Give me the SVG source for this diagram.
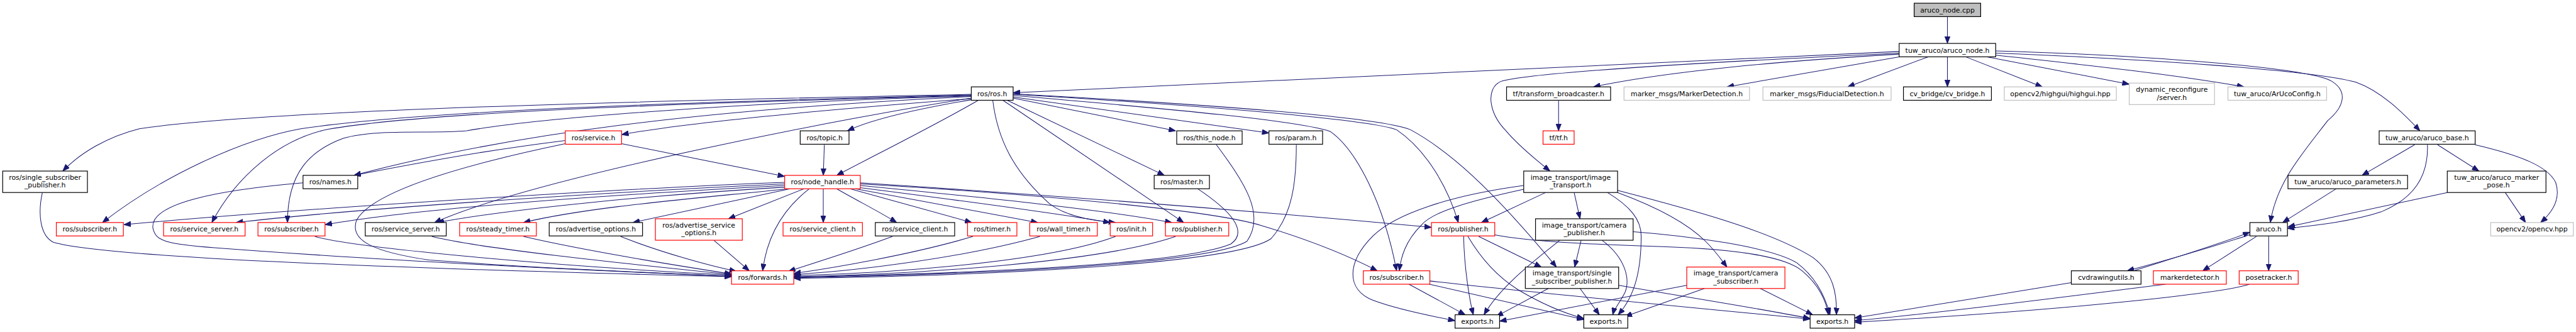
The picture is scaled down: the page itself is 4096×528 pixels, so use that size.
<svg xmlns="http://www.w3.org/2000/svg" width="4096" height="528" viewBox="0 0 4096 528">
<style>
.e path{fill:none;stroke:#191970;stroke-width:1.2;marker-end:url(#ah)}
.nd rect{fill:#fff;stroke:#000;stroke-width:1.4}
.nd.r rect{stroke:#ff0000}
.nd.g rect{stroke:#bfbfbf}
.nd.top rect{fill:#bfbfbf}
.nd text{font-family:"DejaVu Sans","Liberation Sans",sans-serif;font-size:12.8px;text-anchor:middle;fill:#000}
</style>
<defs>
<marker id="ah" viewBox="0 0 13 10" refX="13" refY="5" markerWidth="13" markerHeight="10" markerUnits="userSpaceOnUse" orient="auto"><path d="M0,0 L13,5 L0,10 z" fill="#191970" stroke="#191970" stroke-width="1"/></marker>
</defs>
<rect width="4096" height="528" fill="#fff"/>
<g transform="scale(0.8528)">
<g id="edges" class="e">
<path d="M3631,31 L3631,81"/>
<path d="M3541,96 L1889,173"/>
<path d="M3541,101 C3300,115 3100,135 2971,162"/>
<path d="M3541,99 C3200,115 2850,135 2798,152 C2770,165 2775,210 2808,244 C2830,270 2860,295 2890,319"/>
<path d="M3541,106 L3220,162"/>
<path d="M3595,106 L3445,162"/>
<path d="M3631,106 L3631,162"/>
<path d="M3665,106 L3808,162"/>
<path d="M3705,106 L3970,157"/>
<path d="M3721,103 C3900,122 4060,140 4184,162"/>
<path d="M3721,99 C4000,110 4300,130 4392,153 C4440,170 4480,210 4512,244"/>
<path d="M3721,95 C4000,103 4290,125 4345,150 C4380,170 4370,200 4340,225 C4290,290 4245,340 4233,415"/>
<path d="M2906,188 L2906,244"/>
<path d="M1811,176 C1200,188 500,205 260,240 C200,255 150,285 117,319"/>
<path d="M1811,177 C1300,190 800,205 561,240 C450,260 300,330 191,415"/>
<path d="M1811,178 C1300,192 800,208 612,241 C520,260 440,330 395,415"/>
<path d="M1811,179 C1400,190 1000,220 870,244 C800,250 700,240 640,258 C580,280 536,320 536,415"/>
<path d="M1811,180 C1300,205 950,250 660,327"/>
<path d="M1811,183 C1600,215 1000,330 810,415"/>
<path d="M1811,184 C1600,200 1300,225 1159,251"/>
<path d="M1811,186 C1700,205 1620,225 1580,244"/>
<path d="M1824,187 C1750,230 1640,285 1560,327"/>
<path d="M1851,187 C1860,260 1890,320 1957,380 C1990,405 2040,412 2080,415"/>
<path d="M1870,187 L2207,415"/>
<path d="M1878,187 L2171,327"/>
<path d="M1889,183 L2192,244"/>
<path d="M1889,181 L2366,248"/>
<path d="M1889,178 C2200,205 2420,225 2480,245 C2530,280 2580,380 2604,505"/>
<path d="M1889,176 C2300,200 2560,225 2604,242 C2660,280 2700,350 2719,415"/>
<path d="M1889,175 C2350,200 2580,222 2630,242 C2700,280 2780,350 2902,498"/>
<path d="M1054,262 C950,275 850,290 660,327"/>
<path d="M1159,268 L1463,329"/>
<path d="M1054,268 C900,300 700,350 665,410 C650,450 700,470 800,485 C1000,500 1200,508 1364,515"/>
<path d="M1537,270 L1535,327"/>
<path d="M1463,340 C1200,350 600,385 231,419"/>
<path d="M1463,343 C1200,355 700,385 440,415"/>
<path d="M1463,346 C1200,360 800,385 606,419"/>
<path d="M1463,349 C1200,365 950,390 815,415"/>
<path d="M1470,352 C1300,370 1100,385 976,415"/>
<path d="M1473,352 L1180,415"/>
<path d="M1499,352 L1358,408"/>
<path d="M1509,352 C1460,390 1430,440 1422,505"/>
<path d="M1535,352 L1535,415"/>
<path d="M1560,352 C1600,375 1640,395 1672,415"/>
<path d="M1585,352 L1812,415"/>
<path d="M1595,352 L1935,415"/>
<path d="M1604,350 C1800,375 1950,395 2070,415"/>
<path d="M1604,346 C1850,370 2050,390 2185,415"/>
<path d="M1604,341 C1900,360 2300,390 2669,424"/>
<path d="M1604,343 C1900,360 2250,390 2350,420 C2450,450 2520,480 2568,505"/>
<path d="M565,341 C400,355 280,380 285,425 C290,450 310,455 400,462 C700,485 1100,505 1364,515"/>
<path d="M79,359 C70,400 75,440 100,452 C200,480 700,500 1364,516"/>
<path d="M587,441 C650,460 1000,495 1364,513"/>
<path d="M805,441 C900,465 1200,495 1364,512"/>
<path d="M976,441 C1100,470 1280,498 1364,511"/>
<path d="M1157,441 C1230,470 1320,495 1373,506"/>
<path d="M1331,448 L1397,505"/>
<path d="M1664,441 C1600,465 1520,490 1470,506"/>
<path d="M1814,441 C1700,475 1550,500 1480,510"/>
<path d="M1939,441 C1800,480 1600,505 1480,512"/>
<path d="M2080,441 C1950,490 1650,510 1480,514"/>
<path d="M2192,441 C2050,490 1700,512 1480,516"/>
<path d="M2233,352 C2290,390 2330,430 2295,455 C2200,495 1800,510 1480,517"/>
<path d="M2268,270 C2320,340 2360,400 2325,450 C2250,495 1800,512 1480,518"/>
<path d="M2417,270 C2417,340 2410,400 2370,445 C2300,495 1800,515 1480,519"/>
<path d="M2841,346 C2700,365 2600,400 2560,440 C2510,490 2510,540 2560,560 C2600,575 2660,588 2713,598"/>
<path d="M2841,353 C2740,375 2670,395 2650,420 C2620,450 2612,480 2609,505"/>
<path d="M2882,359 L2762,415"/>
<path d="M2935,359 L2946,408"/>
<path d="M2997,359 C3040,385 3060,410 3060,440 C3060,500 3050,550 3017,587"/>
<path d="M3016,359 C3100,390 3150,420 3180,450 C3200,470 3210,485 3220,498"/>
<path d="M3016,355 C3150,390 3300,430 3380,480 C3420,510 3425,550 3424,587"/>
<path d="M2729,441 C2730,500 2740,560 2747,587"/>
<path d="M2737,441 C2760,480 2790,515 2830,540 C2880,570 2920,585 2953,594"/>
<path d="M2757,441 L2874,498"/>
<path d="M2787,438 C2850,450 2950,455 3100,460 C3250,465 3330,480 3360,505 C3390,530 3405,560 3409,587"/>
<path d="M2627,530 L2732,587"/>
<path d="M2665,530 L2953,596"/>
<path d="M2666,524 C2900,550 3200,578 3375,595"/>
<path d="M2908,448 C2870,480 2800,530 2767,587"/>
<path d="M2948,448 L2936,498"/>
<path d="M2987,448 C3030,480 3040,520 3030,545 C3020,565 3010,575 3007,587"/>
<path d="M3045,432 C3150,440 3300,460 3350,490 C3390,520 3405,560 3412,587"/>
<path d="M2887,538 L2790,590"/>
<path d="M2946,538 L2982,587"/>
<path d="M3018,532 C3150,555 3280,575 3375,594"/>
<path d="M3145,532 L2796,599"/>
<path d="M3178,538 L3030,590"/>
<path d="M3282,538 L3380,587"/>
<path d="M4502,270 L4404,327"/>
<path d="M4526,270 C4528,330 4500,370 4440,395 C4380,415 4300,422 4265,426"/>
<path d="M4545,270 L4622,319"/>
<path d="M4615,270 C4700,290 4750,310 4765,340 C4775,370 4760,395 4737,415"/>
<path d="M4356,352 L4256,415"/>
<path d="M4563,359 L4266,423"/>
<path d="M4671,359 L4709,415"/>
<path d="M4207,441 L4107,505"/>
<path d="M4230,441 L4230,505"/>
<path d="M4197,437 C4120,462 4030,488 3966,505"/>
<path d="M3978,505 C4050,482 4130,458 4195,433"/>
<path d="M4038,530 C3800,560 3600,585 3458,598"/>
<path d="M4194,530 C4150,545 3900,575 3458,601"/>
<path d="M3862,527 L3458,593"/>
</g>
<g id="n_cpp" class="nd top"><rect x="3569" y="6" width="124" height="25"/><text x="3631" y="23">aruco_node.cpp</text></g>
<g id="n_anh" class="nd"><rect x="3541" y="81" width="180" height="25"/><text x="3631" y="98">tuw_aruco/aruco_node.h</text></g>
<g id="n_rosh" class="nd"><rect x="1811" y="162" width="78" height="25"/><text x="1850" y="179">ros/ros.h</text></g>
<g id="n_tfb" class="nd"><rect x="2809" y="162" width="194" height="25"/><text x="2906" y="179">tf/transform_broadcaster.h</text></g>
<g id="n_mmd" class="nd g"><rect x="3028" y="162" width="234" height="25"/><text x="3145" y="179">marker_msgs/MarkerDetection.h</text></g>
<g id="n_mfd" class="nd g"><rect x="3287" y="162" width="239" height="25"/><text x="3406.5" y="179">marker_msgs/FiducialDetection.h</text></g>
<g id="n_cvb" class="nd"><rect x="3549" y="162" width="164" height="25"/><text x="3631" y="179">cv_bridge/cv_bridge.h</text></g>
<g id="n_hg" class="nd g"><rect x="3737" y="162" width="209" height="25"/><text x="3841.5" y="179">opencv2/highgui/highgui.hpp</text></g>
<g id="n_dyn" class="nd g"><rect x="3970" y="155" width="159" height="40"/><text x="4049.5" y="171">dynamic_reconfigure</text><text x="4049.5" y="186">/server.h</text></g>
<g id="n_auc" class="nd g"><rect x="4154" y="162" width="184" height="25"/><text x="4246" y="179">tuw_aruco/ArUcoConfig.h</text></g>
<g id="n_srv" class="nd r"><rect x="1054" y="244" width="105" height="25"/><text x="1106.5" y="261">ros/service.h</text></g>
<g id="n_topic" class="nd"><rect x="1492" y="244" width="91" height="25"/><text x="1537.5" y="261">ros/topic.h</text></g>
<g id="n_thisn" class="nd"><rect x="2194" y="244" width="122" height="25"/><text x="2255" y="261">ros/this_node.h</text></g>
<g id="n_param" class="nd"><rect x="2366" y="244" width="100" height="25"/><text x="2416" y="261">ros/param.h</text></g>
<g id="n_tf" class="nd r"><rect x="2877" y="244" width="58" height="25"/><text x="2906" y="261">tf/tf.h</text></g>
<g id="n_abase" class="nd"><rect x="4436" y="244" width="179" height="25"/><text x="4525.5" y="261">tuw_aruco/aruco_base.h</text></g>
<g id="n_ssp" class="nd"><rect x="5" y="319" width="158" height="40"/><text x="84" y="335">ros/single_subscriber</text><text x="84" y="350">_publisher.h</text></g>
<g id="n_names" class="nd"><rect x="565" y="327" width="102" height="25"/><text x="616" y="344">ros/names.h</text></g>
<g id="n_nh" class="nd r"><rect x="1463" y="327" width="141" height="25"/><text x="1533.5" y="344">ros/node_handle.h</text></g>
<g id="n_master" class="nd"><rect x="2152" y="327" width="103" height="25"/><text x="2203.5" y="344">ros/master.h</text></g>
<g id="n_it" class="nd"><rect x="2841" y="319" width="175" height="40"/><text x="2928.5" y="335">image_transport/image</text><text x="2928.5" y="350">_transport.h</text></g>
<g id="n_apar" class="nd"><rect x="4266" y="327" width="223" height="25"/><text x="4377.5" y="344">tuw_aruco/aruco_parameters.h</text></g>
<g id="n_amp" class="nd"><rect x="4563" y="319" width="184" height="40"/><text x="4655" y="335">tuw_aruco/aruco_marker</text><text x="4655" y="350">_pose.h</text></g>
<g id="n_sub1" class="nd r"><rect x="105" y="415" width="125" height="25"/><text x="167.5" y="432">ros/subscriber.h</text></g>
<g id="n_ss1" class="nd r"><rect x="305" y="415" width="152" height="25"/><text x="381" y="432">ros/service_server.h</text></g>
<g id="n_sub2" class="nd r"><rect x="481" y="415" width="125" height="25"/><text x="543.5" y="432">ros/subscriber.h</text></g>
<g id="n_ss2" class="nd"><rect x="681" y="415" width="151" height="25"/><text x="756.5" y="432">ros/service_server.h</text></g>
<g id="n_steady" class="nd r"><rect x="857" y="415" width="143" height="25"/><text x="928.5" y="432">ros/steady_timer.h</text></g>
<g id="n_advo" class="nd"><rect x="1024" y="415" width="174" height="25"/><text x="1111" y="432">ros/advertise_options.h</text></g>
<g id="n_advso" class="nd r"><rect x="1222" y="408" width="162" height="40"/><text x="1303" y="424">ros/advertise_service</text><text x="1303" y="439">_options.h</text></g>
<g id="n_sc1" class="nd r"><rect x="1460" y="415" width="148" height="25"/><text x="1534" y="432">ros/service_client.h</text></g>
<g id="n_sc2" class="nd"><rect x="1632" y="415" width="148" height="25"/><text x="1706" y="432">ros/service_client.h</text></g>
<g id="n_timer" class="nd r"><rect x="1804" y="415" width="92" height="25"/><text x="1850" y="432">ros/timer.h</text></g>
<g id="n_wt" class="nd r"><rect x="1920" y="415" width="126" height="25"/><text x="1983" y="432">ros/wall_timer.h</text></g>
<g id="n_init" class="nd r"><rect x="2070" y="415" width="79" height="25"/><text x="2109.5" y="432">ros/init.h</text></g>
<g id="n_pub1" class="nd r"><rect x="2173" y="415" width="118" height="25"/><text x="2232" y="432">ros/publisher.h</text></g>
<g id="n_pub2" class="nd r"><rect x="2669" y="415" width="118" height="25"/><text x="2728" y="432">ros/publisher.h</text></g>
<g id="n_cp" class="nd"><rect x="2863" y="408" width="182" height="40"/><text x="2954" y="424">image_transport/camera</text><text x="2954" y="439">_publisher.h</text></g>
<g id="n_aruco" class="nd"><rect x="4195" y="415" width="70" height="25"/><text x="4230" y="432">aruco.h</text></g>
<g id="n_ocv" class="nd g"><rect x="4644" y="415" width="154" height="25"/><text x="4721" y="432">opencv2/opencv.hpp</text></g>
<g id="n_fwd" class="nd r"><rect x="1364" y="505" width="116" height="25"/><text x="1422" y="522">ros/forwards.h</text></g>
<g id="n_sub3" class="nd r"><rect x="2542" y="505" width="124" height="25"/><text x="2604" y="522">ros/subscriber.h</text></g>
<g id="n_issp" class="nd"><rect x="2844" y="498" width="174" height="40"/><text x="2931" y="514">image_transport/single</text><text x="2931" y="529">_subscriber_publisher.h</text></g>
<g id="n_cs" class="nd r"><rect x="3145" y="498" width="183" height="40"/><text x="3236.5" y="514">image_transport/camera</text><text x="3236.5" y="529">_subscriber.h</text></g>
<g id="n_cvd" class="nd"><rect x="3862" y="505" width="130" height="25"/><text x="3927" y="522">cvdrawingutils.h</text></g>
<g id="n_md" class="nd r"><rect x="4015" y="505" width="136" height="25"/><text x="4083" y="522">markerdetector.h</text></g>
<g id="n_pt" class="nd r"><rect x="4175" y="505" width="110" height="25"/><text x="4230" y="522">posetracker.h</text></g>
<g id="n_ex1" class="nd"><rect x="2713" y="587" width="83" height="25"/><text x="2754.5" y="604">exports.h</text></g>
<g id="n_ex2" class="nd"><rect x="2953" y="587" width="82" height="25"/><text x="2994" y="604">exports.h</text></g>
<g id="n_ex3" class="nd"><rect x="3375" y="587" width="83" height="25"/><text x="3416.5" y="604">exports.h</text></g>
</g>
</svg>
